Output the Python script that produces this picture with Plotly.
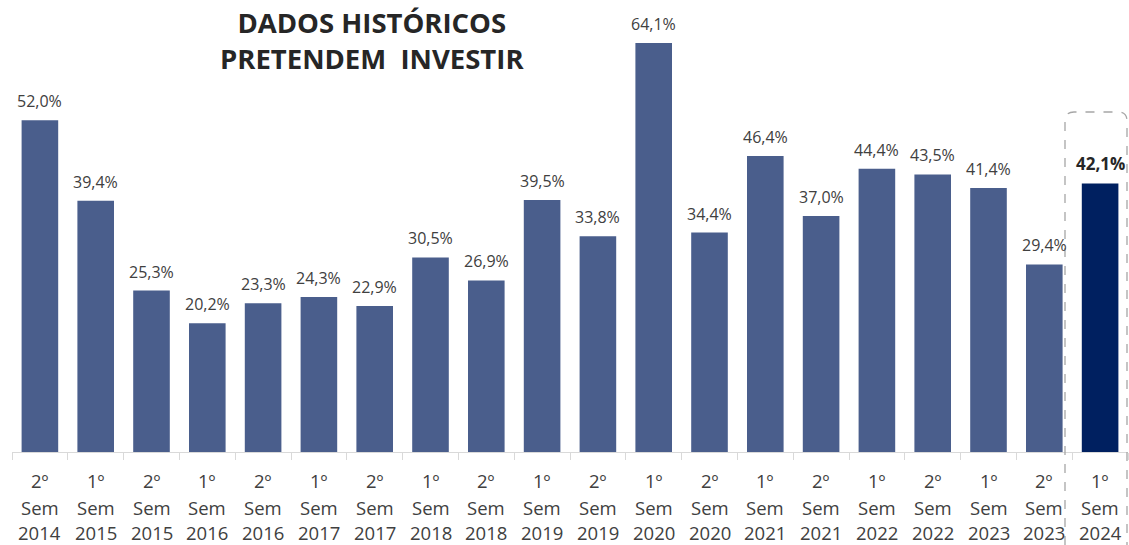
import plotly.graph_objects as go

semesters = ["2º", "1º", "2º", "1º", "2º", "1º", "2º", "1º", "2º", "1º",
             "2º", "1º", "2º", "1º", "2º", "1º", "2º", "1º", "2º", "1º"]
years = ["2014", "2015", "2015", "2016", "2016", "2017", "2017", "2018", "2018", "2019",
         "2019", "2020", "2020", "2021", "2021", "2022", "2022", "2023", "2023", "2024"]
values = [52.0, 39.4, 25.3, 20.2, 23.3, 24.3, 22.9, 30.5, 26.9, 39.5,
          33.8, 64.1, 34.4, 46.4, 37.0, 44.4, 43.5, 41.4, 29.4, 42.1]
title_lines = ["DADOS HISTÓRICOS", "PRETENDEM&nbsp;&nbsp;INVESTIR"]

categories = [f"{s} Sem {y}" for s, y in zip(semesters, years)]
n = len(categories)
hl = n - 1
colors = ["#4A5E8C"] * n
colors[hl] = "#002060"

FONT = "Open Sans"
TXT = "#404040"

fig = go.Figure()
fig.add_trace(go.Bar(
    x=categories, y=values, marker=dict(color=colors, line=dict(width=0)),
    width=0.656, hoverinfo="skip", showlegend=False,
))

ann = []
for i, (c, v) in enumerate(zip(categories, values)):
    label = f"{v:.1f}".replace(".", ",") + "%"
    if i == hl:
        ann.append(dict(x=c, y=v, xref="x", yref="y", text=f"<b>{label}</b>",
                        showarrow=False, yanchor="bottom", yshift=6,
                        font=dict(family=FONT, size=17, color="#262626")))
    else:
        ann.append(dict(x=c, y=v, xref="x", yref="y", text=label,
                        showarrow=False, yanchor="bottom", yshift=6,
                        font=dict(family=FONT, size=16, color=TXT)))
    for line, shift in zip([semesters[i], "Sem", years[i]], [-28.5, -55, -80.5]):
        ann.append(dict(x=c, y=0, xref="x", yref="y", text=line, showarrow=False,
                        yanchor="middle", yshift=shift,
                        font=dict(family=FONT, size=18.5, color=TXT)))

ann.append(dict(x=0.3226, y=1.0, xref="paper", yref="paper", xanchor="center",
                text="<b>" + "<br>".join(title_lines) + "</b>",
                showarrow=False, yanchor="top", yshift=-2, align="center",
                font=dict(family=FONT, size=27.5, color="#262626")))

# dashed rounded highlight box (paper coords)
W, H = 1116.0, 452.0
x0 = (1065 - 12) / W
x1 = (1127 - 12) / W
yt = (452 - 112) / H
yb = -(545 - 452) / H
rx, ry = 9 / W, 9 / H
path = (f"M {x0},{yb} L {x0},{yt-ry} Q {x0},{yt} {x0+rx},{yt} "
        f"L {x1-rx},{yt} Q {x1},{yt} {x1},{yt-ry} L {x1},{yb}")

fig.update_layout(
    width=1129, height=545,
    margin=dict(l=12, r=1, t=0, b=93),
    paper_bgcolor="white", plot_bgcolor="white",
    bargap=0.344,
    annotations=ann,
    shapes=[dict(type="path", path=path, xref="paper", yref="paper",
                 line=dict(color="#A6A6A6", width=1.3, dash="dash"))],
    xaxis=dict(showticklabels=False, showline=True, linecolor="#D9D9D9", linewidth=1,
               ticks="outside", tickson="boundaries", ticklen=7, tickcolor="#D9D9D9",
               showgrid=False, zeroline=False, fixedrange=True),
    yaxis=dict(range=[0, 70.85], visible=False, showgrid=False, zeroline=False,
               fixedrange=True),
)

fig.write_html("out.html", config={"displayModeBar": False},
               post_script="document.body.style.margin='0';document.body.style.overflow='hidden';")
